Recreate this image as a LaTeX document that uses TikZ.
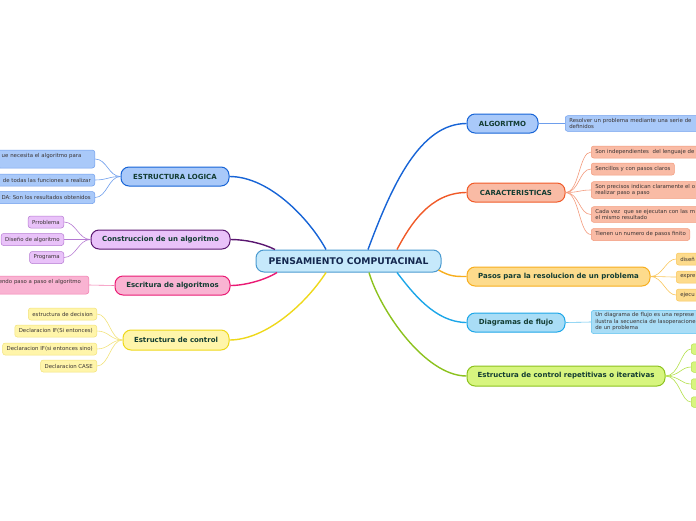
\documentclass[tikz,border=0pt]{standalone}
\usepackage{fontspec}
\setmainfont{DejaVu Sans}
\definecolor{txtmain}{HTML}{123C32}
\definecolor{txtcenter}{HTML}{14284F}
\definecolor{txtleaf}{HTML}{3A3434}
\definecolor{cfill}{HTML}{C6E9FB}
\definecolor{cbord}{HTML}{4A9AD0}
% blue
\definecolor{blueF}{HTML}{A9C9F9}
\definecolor{blueB}{HTML}{1764D6}
\definecolor{blueLB}{HTML}{6E9EEC}
% orange red
\definecolor{orF}{HTML}{F9BBA5}
\definecolor{orB}{HTML}{F05A28}
\definecolor{orLB}{HTML}{F39A7C}
% pasos
\definecolor{paF}{HTML}{FDDB8C}
\definecolor{paB}{HTML}{F7AE1E}
\definecolor{paLB}{HTML}{F9C65A}
% diagramas
\definecolor{diF}{HTML}{A9DDF6}
\definecolor{diB}{HTML}{1CA6E8}
\definecolor{diLB}{HTML}{5EC2EE}
% green
\definecolor{grF}{HTML}{D7F57F}
\definecolor{grB}{HTML}{8CC21E}
\definecolor{grLB}{HTML}{B3E04A}
% purple
\definecolor{puF}{HTML}{E9C2F9}
\definecolor{puB}{HTML}{5A1670}
\definecolor{puLB}{HTML}{B57AD2}
% pink
\definecolor{piF}{HTML}{F9B3D2}
\definecolor{piB}{HTML}{EA1A74}
\definecolor{piLB}{HTML}{F27AAE}
% yellow
\definecolor{yeF}{HTML}{FFF5AA}
\definecolor{yeB}{HTML}{EED81A}
\definecolor{yeLB}{HTML}{F2E27A}
\tikzset{
  mainbox/.style={draw, line width=1pt, rounded corners=8pt,
    font=\fontsize{7}{8}\selectfont\bfseries, text=txtmain, inner sep=0pt},
  leafbox/.style={draw, line width=0.5pt, rounded corners=2.5pt,
    font=\fontsize{5.4}{6.5}\selectfont, text=txtleaf, inner xsep=4pt,
    inner ysep=2.5pt, align=left, minimum height=12pt},
  trunk/.style={line width=1.4pt},
  twig/.style={line width=0.6pt},
}
\begin{document}
\begin{tikzpicture}[x=1pt,y=-1pt]
\useasboundingbox (0,0) rectangle (696,520);
\clip (0,0) rectangle (696,520);

% centre
\node[mainbox, fill=cfill, draw=cbord, minimum width=185pt, minimum height=22pt,
  font=\fontsize{9.2}{10}\selectfont\bfseries, text=txtcenter] (c) at (348.5,261) {PENSAMIENTO COMPUTACINAL};

% main nodes right
\node[mainbox, fill=blueF, draw=blueB, minimum width=71pt, minimum height=19pt] (alg) at (502.5,123.5) {ALGORITMO};
\node[mainbox, fill=orF, draw=orB, minimum width=98pt, minimum height=19pt] (car) at (516,192.5) {CARACTERISTICAS};
\node[mainbox, fill=paF, draw=paB, minimum width=183pt, minimum height=19pt] (pas) at (558.5,276.5) {Pasos para la resolucion de un problema};
\node[mainbox, fill=diF, draw=diB, minimum width=98pt, minimum height=19pt] (dia) at (516,322.5) {Diagramas de flujo};
\node[mainbox, fill=grF, draw=grB, minimum width=198pt, minimum height=20pt] (rep) at (566,376) {Estructura de control repetitivas o iterativas};

% main nodes left
\node[mainbox, fill=blueF, draw=blueB, minimum width=108pt, minimum height=19pt] (log) at (175,176.5) {ESTRUCTURA LOGICA};
\node[mainbox, fill=puF, draw=puB, minimum width=139pt, minimum height=19pt] (con) at (160.5,239.5) {Construccion de un algoritmo};
\node[mainbox, fill=piF, draw=piB, minimum width=115pt, minimum height=19pt] (esc) at (172.5,285.5) {Escritura de algoritmos};
\node[mainbox, fill=yeF, draw=yeB, minimum width=106pt, minimum height=20pt] (ctl) at (176,340) {Estructura de control};

% trunks
\draw[trunk, draw=blueB] ([xshift=19.5pt]c.north) .. controls (392,185) and (420,123.5) .. (alg.west);
\draw[trunk, draw=orB] ([xshift=48.5pt]c.north) .. controls (410,225) and (430,192.5) .. (car.west);
\draw[trunk, draw=paB] ([xshift=-3pt,yshift=-9pt]c.east) .. controls (450,276.5) and (455,276.5) .. (pas.west);
\draw[trunk, draw=diB] ([xshift=48.5pt]c.south) .. controls (412,292) and (435,322.5) .. (dia.west);
\draw[trunk, draw=grB] ([xshift=20.5pt]c.south) .. controls (380,310) and (425,376) .. (rep.west);
\draw[trunk, draw=blueB] ([xshift=-22.5pt]c.north) .. controls (310,220) and (270,176.5) .. (log.east);
\draw[trunk, draw=puB] ([xshift=-73.5pt]c.north) .. controls (262,243) and (245,239.5) .. (con.east);
\draw[trunk, draw=piB] ([xshift=-71.5pt]c.south) .. controls (265,280) and (245,285.5) .. (esc.east);
\draw[trunk, draw=yeB] ([xshift=-22.5pt]c.south) .. controls (305,305) and (265,340) .. (ctl.east);

% leaves right
\node[leafbox, fill=blueF, draw=blueLB, anchor=west, text width=140pt] (alg1) at (565,123.5) {Resolver un problema mediante una serie de\\definidos};

\node[leafbox, fill=orF, draw=orLB, anchor=west, text width=140pt] (car1) at (591,152) {Son independientes\ \ del lenguaje de};
\node[leafbox, fill=orF, draw=orLB, anchor=west] (car2) at (591,169) {Sencillos y con pasos claros};
\node[leafbox, fill=orF, draw=orLB, anchor=west, text width=140pt] (car3) at (591,190) {Son precisos indican claramente el o\\realizar paso a paso};
\node[leafbox, fill=orF, draw=orLB, anchor=west, text width=140pt] (car4) at (591,214.5) {Cada vez\ \ que se ejecutan con las m\\el mismo resultado};
\node[leafbox, fill=orF, draw=orLB, anchor=west] (car5) at (591,234.5) {Tienen un numero de pasos finito};

\node[leafbox, fill=paF, draw=paLB, anchor=west, text width=60pt] (pas1) at (676,259) {diseñ};
\node[leafbox, fill=paF, draw=paLB, anchor=west, text width=60pt] (pas2) at (676,277) {expre};
\node[leafbox, fill=paF, draw=paLB, anchor=west, text width=60pt] (pas3) at (676,295) {ejecu};

\node[leafbox, fill=diF, draw=diLB, anchor=west, text width=140pt] (dia1) at (591,322) {Un diagrama de flujo es una represe\\ilustra la secuencia de lasoperacione\\de un problema};

\node[leafbox, fill=grF, draw=grLB, anchor=west, minimum width=30pt, minimum height=10.5pt] (rep1) at (691,349) {};
\node[leafbox, fill=grF, draw=grLB, anchor=west, minimum width=30pt, minimum height=10.5pt] (rep2) at (691,367) {};
\node[leafbox, fill=grF, draw=grLB, anchor=west, minimum width=30pt, minimum height=10.5pt] (rep3) at (691,384) {};
\node[leafbox, fill=grF, draw=grLB, anchor=west, minimum width=30pt, minimum height=10.5pt] (rep4) at (691,402) {};

% leaves left
\node[leafbox, fill=blueF, draw=blueLB, anchor=east, text width=89pt, minimum height=18pt] (log1) at (95,159) {ue necesita el algoritmo para\\\mbox{}};
\node[leafbox, fill=blueF, draw=blueLB, anchor=east, text width=100pt, align=right] (log2) at (95,180) {de todas las funciones a realizar};
\node[leafbox, fill=blueF, draw=blueLB, anchor=east, text width=100pt, align=right] (log3) at (95,197.5) {DA: Son los resultados obtenidos};

\node[leafbox, fill=puF, draw=puLB, anchor=east] (con1) at (64,222) {Prroblema};
\node[leafbox, fill=puF, draw=puLB, anchor=east] (con2) at (64,239.5) {Diseño de algoritmo};
\node[leafbox, fill=puF, draw=puLB, anchor=east] (con3) at (64,257.5) {Programa};

\node[leafbox, fill=piF, draw=piLB, anchor=east, text width=86pt, minimum height=18pt] (esc1) at (89,285) {endo paso a paso el algoritmo\\\mbox{}};

\node[leafbox, fill=yeF, draw=yeLB, anchor=east] (ctl1) at (97,314) {estructura de decision};
\node[leafbox, fill=yeF, draw=yeLB, anchor=east] (ctl2) at (97,331) {Declaracion IF(Si entonces)};
\node[leafbox, fill=yeF, draw=yeLB, anchor=east] (ctl3) at (97,349) {Declaracion IF(si entonces sino)};
\node[leafbox, fill=yeF, draw=yeLB, anchor=east] (ctl4) at (97,366) {Declaracion CASE};

% twigs right
\draw[twig, draw=blueLB] (alg.east) -- (alg1.west);
\foreach \n in {car1,car2,car3,car4,car5}
  \draw[twig, draw=orLB] (car.east) .. controls +(14,0) and +(-12,0) .. (\n.west);
\foreach \n in {pas1,pas2,pas3}
  \draw[twig, draw=paLB] (pas.east) .. controls +(12,0) and +(-10,0) .. (\n.west);
\draw[twig, draw=diLB] (dia.east) -- (dia1.west);
\foreach \n in {rep1,rep2,rep3,rep4}
  \draw[twig, draw=grLB] (rep.east) .. controls +(14,0) and +(-10,0) .. (\n.west);

% twigs left
\foreach \n in {log1,log2,log3}
  \draw[twig, draw=blueLB] (log.west) .. controls +(-12,0) and +(12,0) .. (\n.east);
\foreach \n in {con1,con2,con3}
  \draw[twig, draw=puLB] (con.west) .. controls +(-12,0) and +(12,0) .. (\n.east);
\draw[twig, draw=piLB] (esc.west) -- (esc1.east);
\foreach \n in {ctl1,ctl2,ctl3,ctl4}
  \draw[twig, draw=yeLB] (ctl.west) .. controls +(-12,0) and +(12,0) .. (\n.east);
\end{tikzpicture}
\end{document}
